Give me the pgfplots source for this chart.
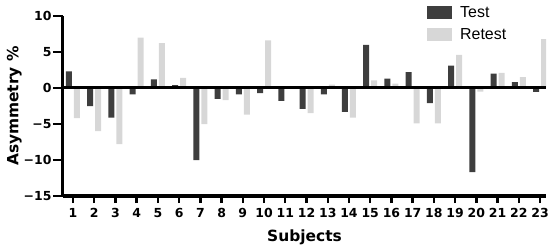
\documentclass[border=0pt]{standalone}
\usepackage{pgfplots}
\pgfplotsset{compat=1.18}
\usepackage{fontspec}
\setmainfont{DejaVu Sans}
\newfontfamily\legfont{Liberation Sans}
\definecolor{testc}{HTML}{3E3E3E}
\definecolor{retestc}{HTML}{D7D7D7}
\begin{document}
\begin{tikzpicture}
\begin{axis}[
    scale only axis,
    width=483bp, height=180bp,
    ybar=2bp, bar width=6bp,
    xmin=0.53, xmax=23.28,
    ymin=-15, ymax=10,
    axis lines*=left,
    axis line style={line width=3bp},
    xtick={1,...,23},
    ytick={-15,-10,-5,0,5,10},
    yticklabels={−15,−10,−5,0,5,10},
    tick align=outside,
    tick style={black, line width=2.4bp},
    major tick length=10bp,
    x tick style={/pgfplots/major tick length=7bp},
    /pgf/number format/assume math mode=true,
    ticklabel style={font=\fontsize{12.5}{13}\selectfont\bfseries},
    yticklabel style={xshift=2bp},
    xticklabel style={yshift=1bp},
    xlabel={Subjects},
    ylabel={Asymmetry \%},
    label style={font=\fontsize{15.5}{17}\selectfont\bfseries},
    xlabel style={at={(axis description cs:0.5,-0.228)}, anchor=center},
    ylabel style={at={(axis description cs:-0.101,0.5)}, anchor=center},
    legend image code/.code={\fill[#1, draw=none] (0bp,-6.5bp) rectangle (25bp,6.5bp);},
    legend style={at={(axis description cs:0.7536,1.067)}, anchor=north west,
        draw=none, fill=none, inner sep=0pt, row sep=6bp, column sep=6bp,
        font=\fontsize{16}{18}\selectfont\legfont},
    legend cell align=left,
]
\addplot[fill=testc, draw=none] coordinates {
    (1,2.3) (2,-2.5) (3,-4.1) (4,-0.9) (5,1.2) (6,0.4) (7,-10.0) (8,-1.5)
    (9,-0.9) (10,-0.7) (11,-1.8) (12,-2.9) (13,-0.9) (14,-3.3) (15,6.0)
    (16,1.3) (17,2.2) (18,-2.1) (19,3.1) (20,-11.7) (21,2.0) (22,0.8) (23,-0.55)
};
\addlegendentry{Test}
\addplot[fill=retestc, draw=none] coordinates {
    (1,-4.2) (2,-6.0) (3,-7.8) (4,7.0) (5,6.25) (6,1.4) (7,-5.0) (8,-1.7)
    (9,-3.7) (10,6.6) (11,0) (12,-3.5) (13,0.46) (14,-4.1) (15,1.06)
    (16,0.6) (17,-4.9) (18,-4.9) (19,4.6) (20,-0.5) (21,2.1) (22,1.5) (23,6.8)
};
\addlegendentry{Retest}
\draw[line width=3bp] (rel axis cs:0,0.6) -- (rel axis cs:1,0.6);
\end{axis}
\pgfresetboundingbox
\useasboundingbox (-63bp,-53bp) rectangle (487bp,196bp);
\end{tikzpicture}
\end{document}
